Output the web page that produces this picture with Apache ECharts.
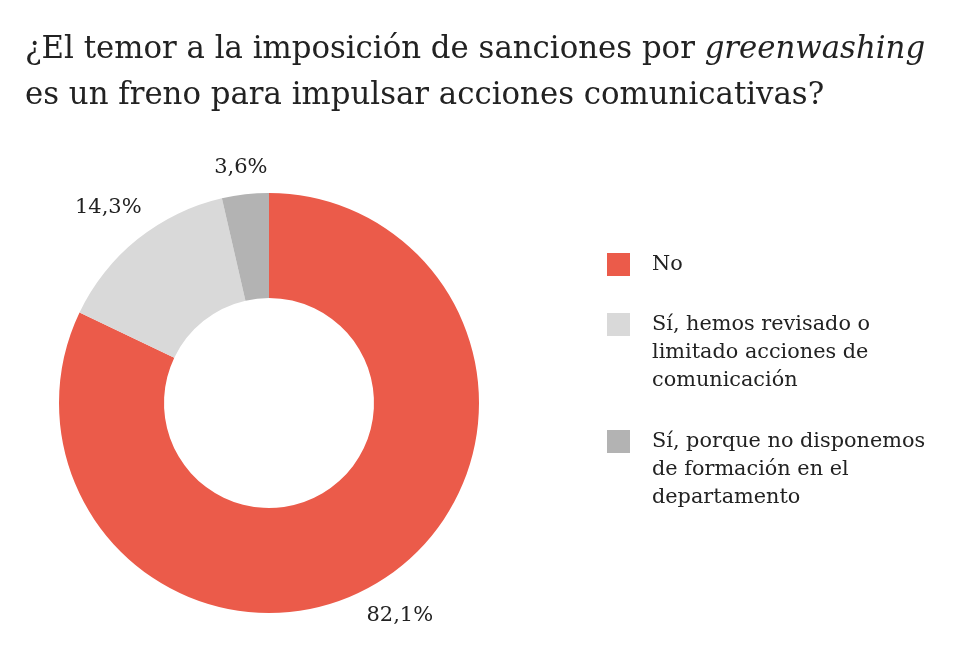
<!DOCTYPE html>
<html><head><meta charset="utf-8">
<script src="https://cdn.jsdelivr.net/npm/echarts@6/dist/echarts.min.js"></script>
<style>html,body{margin:0;padding:0;background:#fff}#c{width:960px;height:655px}</style>
</head><body><div id="c"></div>
<script>
const categories = ['No', 'Sí, hemos revisado o\nlimitado acciones de\ncomunicación', 'Sí, porque no disponemos\nde formación en el\ndepartamento'];
const values = [82.1, 14.3, 3.6];
const labels = ['82,1%', '14,3%', '3,6%'];
const colors = ['#EB5B4A', '#D9D9D9', '#B3B3B3'];

const FONT = 'DejaVu Serif';
const LH = 28;
const chart = echarts.init(document.getElementById('c'));
const legendTops = [253, 313, 430];
const labelOffsets = [[-2, 2], [-5, -1], [0, 12]];
const legends = categories.map((name, i) => {
  const lines = name.split('\n').length;
  return {
    orient: 'vertical', left: 607,
    top: legendTops[i] + 11.5 - (2 * lines - 1) * LH / 2,
    padding: 0, itemWidth: 23, itemHeight: 23, itemGap: 0,
    icon: 'rect', selectedMode: false,
    data: [{ name: name, itemStyle: { color: colors[i] } }],
    formatter: n => '\n'.repeat(lines - 1) + n,
    textStyle: { fontFamily: FONT, fontSize: 20.8, color: '#222', lineHeight: LH, padding: [0, 0, 0, 17] }
  };
});
const pieData = categories.map((n, i) => ({ name: n, value: values[i] }));
const labelData = categories.map((n, i) => ({ name: n, value: values[i], label: { offset: labelOffsets[i] } }));
chart.setOption({
  animation: false,
  title: {
    left: 25, top: 27, padding: 0,
    text: '¿El temor a la imposición de sanciones por {i|greenwashing}\nes un freno para impulsar acciones comunicativas?',
    textStyle: {
      fontFamily: FONT, fontSize: 30.8, fontWeight: 'normal', color: '#222', lineHeight: 46,
      rich: { i: { fontFamily: FONT, fontSize: 30.8, fontStyle: 'italic', color: '#222', lineHeight: 46 } }
    }
  },
  color: colors,
  legend: legends,
  series: [{
    type: 'pie', center: [269, 403], radius: [105, 210],
    startAngle: 90, clockwise: true, silent: true,
    label: { show: false },
    labelLine: { show: false },
    data: pieData
  }, {
    type: 'pie', center: [269, 403], radius: [226, 266],
    startAngle: 90, clockwise: true, silent: true,
    itemStyle: { color: 'rgba(0,0,0,0)' },
    label: {
      show: true, position: 'inside', fontFamily: FONT, fontSize: 21, color: '#222',
      formatter: p => labels[p.dataIndex]
    },
    labelLine: { show: false },
    data: labelData
  }]
});
</script></body></html>
